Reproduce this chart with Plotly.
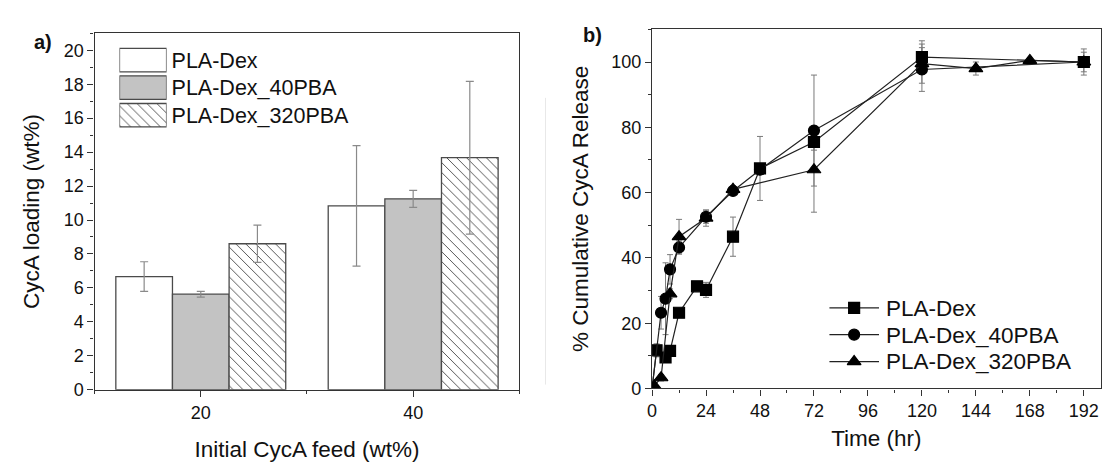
import plotly.graph_objects as go

W, H = 1102, 467

# ---------------- Panel a) data ----------------
feed_labels = ["20", "40"]
series_names = ["PLA-Dex", "PLA-Dex_40PBA", "PLA-Dex_320PBA"]
loading_dex = [6.67, 10.83]
loading_40pba = [5.63, 11.25]
loading_320pba = [8.60, 13.67]
loading_err_dex = [0.87, 3.55]
loading_err_40pba = [0.17, 0.50]
loading_err_320pba = [1.10, 4.50]

# ---------------- Panel b) data ----------------
time_dex = [0, 2, 6, 8, 12, 20, 24, 36, 48, 72, 120, 192]
release_dex = [0, 11.7, 9.5, 11.5, 23.2, 31.3, 30.2, 46.5, 67.4, 75.5, 101.5, 100.0]
release_err_dex = [0, 2.0, 1.0, 1.5, 1.0, 1.0, 2.3, 6.0, 9.8, 2.5, 5.0, 4.0]

time_40pba = [0, 4, 6, 8, 12, 24, 36, 48, 72, 120, 192]
release_40pba = [0, 23.2, 27.5, 36.5, 43.2, 52.6, 60.5, 67.0, 79.0, 97.7, 100.0]
release_err_40pba = [0, 5.0, 11.0, 4.5, 2.0, 2.0, 1.0, 1.0, 17.0, 6.7, 3.0]

time_320pba = [1, 4, 8, 12, 24, 36, 72, 120, 144, 168, 192]
release_320pba = [0.8, 3.3, 29.0, 46.5, 52.2, 61.0, 67.0, 99.5, 98.0, 100.5, 100.0]
release_err_320pba = [0.5, 1.0, 1.5, 5.3, 2.5, 1.0, 13.0, 6.0, 2.0, 0.5, 1.0]

FONT = "Liberation Sans, Arial, Helvetica, sans-serif"
TXT = "#111111"
AX = "#333333"


def px(x):
    return x / W


def py(y):
    return 1 - y / H


bar_styles = [
    dict(color="white"),
    dict(color="#c3c3c3"),
    dict(color="white", pattern=dict(shape="\\", fgcolor="#555555", bgcolor="white",
                                     size=7, solidity=0.14, fillmode="replace")),
]
bar_line = dict(color="#4a4a4a", width=1.3)

fig = go.Figure()

loadings = [loading_dex, loading_40pba, loading_320pba]
loading_errs = [loading_err_dex, loading_err_40pba, loading_err_320pba]
xpos = list(range(len(feed_labels)))

for name, vals, errs, st in zip(series_names, loadings, loading_errs, bar_styles):
    fig.add_trace(go.Bar(
        x=xpos, y=vals, name=name, showlegend=False,
        marker=dict(**st, line=bar_line),
        error_y=dict(type="data", array=errs, color="#8a8a8a", thickness=1.2, width=4),
        xaxis="x", yaxis="y",
    ))

# legend swatches for panel a) (a tiny bar chart on its own axes)
for name, st in zip(series_names, bar_styles):
    fig.add_trace(go.Bar(
        y=[name], x=[1], orientation="h", showlegend=False, hoverinfo="skip",
        width=[0.85], offset=-0.425, cliponaxis=False,
        marker=dict(**st, line=bar_line),
        xaxis="x3", yaxis="y3",
    ))

# ---------------- Panel b) traces ----------------
times = [time_dex, time_40pba, time_320pba]
releases = [release_dex, release_40pba, release_320pba]
rel_errs = [release_err_dex, release_err_40pba, release_err_320pba]
symbols = ["square", "circle", "triangle-up"]
msizes = [11, 11, 12]

# error bars first (underneath markers)
for t, r, e in zip(times, releases, rel_errs):
    fig.add_trace(go.Scatter(
        x=t, y=r, mode="markers", showlegend=False, hoverinfo="skip",
        marker=dict(color="rgba(0,0,0,0)", size=1),
        error_y=dict(type="data", array=e, color="#7a7a7a", thickness=1, width=3),
        xaxis="x2", yaxis="y2",
    ))

for name, t, r, sym, ms in zip(series_names, times, releases, symbols, msizes):
    fig.add_trace(go.Scatter(
        x=t, y=r, name=name, mode="lines+markers", showlegend=False,
        line=dict(color="#222222", width=1.2),
        marker=dict(symbol=sym, color="#000000", opacity=1,
                    size=[0 if tt == 0 else ms for tt in t],
                    line=dict(width=1.2, color="#000000")),
        xaxis="x2", yaxis="y2",
    ))

# legend samples for panel b) (line with a marker in the middle, on own axes)
for name, sym, ms in zip(series_names, symbols, msizes):
    fig.add_trace(go.Scatter(
        x=[0, 0.5, 1], y=[name] * 3, mode="lines+markers", showlegend=False,
        hoverinfo="skip", cliponaxis=False,
        line=dict(color="#222222", width=1.2),
        marker=dict(symbol=sym, color="#000000", opacity=1, size=[0, ms, 0],
                    line=dict(width=1.2, color="#000000")),
        xaxis="x4", yaxis="y4",
    ))

tickfont = dict(family=FONT, size=18, color=TXT)
titlefont = dict(family=FONT, size=22.5, color=TXT)

common = dict(showline=True, linecolor=AX, linewidth=1.3, mirror=True,
              showgrid=False, zeroline=False, ticks="outside", ticklen=6,
              tickwidth=1.2, tickcolor=AX, tickfont=tickfont)

legend_axis = dict(type="category", side="right", showline=False, showgrid=False,
                   zeroline=False, ticks="", range=[-0.5, 2.5],
                   tickmode="array", tickvals=series_names, ticktext=series_names,
                   categoryorder="array", categoryarray=series_names[::-1])

fig.update_layout(
    width=W, height=H,
    margin=dict(l=0, r=0, t=0, b=0),
    paper_bgcolor="white", plot_bgcolor="white",
    font=dict(family=FONT, color=TXT),
    barmode="group", bargap=0.2, bargroupgap=0,
    showlegend=False,
    xaxis=dict(domain=[px(90), px(516.7)], range=[-0.5, 1.5],
               tickmode="array", tickvals=xpos, ticktext=feed_labels,
               minor=dict(tick0=0.5, dtick=1, ticks="outside", ticklen=3, tickcolor=AX),
               title=dict(text="Initial CycA feed (wt%)", font=titlefont, standoff=19),
               anchor="y", **common),
    yaxis=dict(domain=[py(398.3), py(34)], range=[0, 21], dtick=2,
               minor=dict(dtick=1, ticks="outside", ticklen=3, tickcolor=AX),
               title=dict(text="CycA loading (wt%)", font=titlefont, standoff=17),
               anchor="x", **common),
    xaxis2=dict(domain=[px(650), px(1100.7)], range=[0, 199.5], dtick=24, tick0=0,
                minor=dict(dtick=12, ticks="outside", ticklen=3, tickcolor=AX),
                title=dict(text="Time (hr)", font=titlefont, standoff=10),
                anchor="y2", **common),
    yaxis2=dict(domain=[py(397), py(30)], range=[0, 110], dtick=20,
                minor=dict(dtick=10, ticks="outside", ticklen=3, tickcolor=AX),
                title=dict(text="% Cumulative CycA Release", font=titlefont, standoff=16),
                anchor="x2", **common),
    xaxis3=dict(domain=[px(115), px(162.3)], range=[0, 1], visible=False, anchor="y3"),
    yaxis3=dict(domain=[py(131.8), py(47.3)], anchor="x3", ticklabelstandoff=4,
                tickfont=dict(family=FONT, size=21.5, color=TXT), **legend_axis),
    xaxis4=dict(domain=[px(828), px(878)], range=[0, 1], visible=False, anchor="y4"),
    yaxis4=dict(domain=[py(383.2), py(300.8)], anchor="x4", ticklabelstandoff=6,
                tickfont=dict(family=FONT, size=22.5, color=TXT), **legend_axis),
    annotations=[
        dict(text="<b>a)</b>", x=px(27), y=py(30), xref="paper", yref="paper",
             showarrow=False, font=dict(family=FONT, size=20, color=TXT)),
        dict(text="<b>b)</b>", x=px(590), y=py(22), xref="paper", yref="paper",
             showarrow=False, font=dict(family=FONT, size=20, color=TXT)),
    ],
    shapes=[
        dict(type="line", xref="paper", yref="paper", x0=px(543), x1=px(543),
             y0=py(393), y1=py(100), line=dict(color="#e8e8e8", width=1)),
    ],
)

fig.write_html("out.html")
